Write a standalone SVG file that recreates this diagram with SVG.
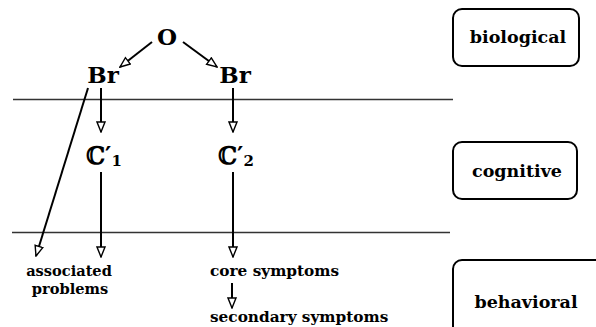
<svg xmlns="http://www.w3.org/2000/svg" width="596" height="327" viewBox="0 0 596 327">
<defs>
<style>
.t{font-family:"DejaVu Serif","Liberation Serif",serif;font-weight:bold;fill:#000}
.lbl{font-size:17.5px}
.sm{font-size:15.3px}
.big{font-size:23px}
.box{fill:none;stroke:#000;stroke-width:2}
.lvl{stroke:#333;stroke-width:1.6;fill:none}
.ar{stroke:#000;stroke-width:2;fill:none;marker-end:url(#ah)}
</style>
<marker id="ah" viewBox="0 0 12 10" refX="11" refY="5" markerWidth="12" markerHeight="10" markerUnits="userSpaceOnUse" orient="auto">
<path d="M1,1 L11,5 L1,9 Z" fill="#fff" stroke="#000" stroke-width="1.4"/>
</marker>
</defs>
<rect width="596" height="327" fill="#fff"/>
<g id="levels">
<line class="lvl" x1="13" y1="99.5" x2="453" y2="99.5"/>
<line class="lvl" x1="12" y1="232.5" x2="450" y2="232.5"/>
</g>
<g id="node-O"><text class="t big" x="167" y="45" text-anchor="middle">O</text></g>
<g id="node-Br1"><text class="t big" x="103" y="83" text-anchor="middle">Br</text></g>
<g id="node-Br2"><text class="t big" x="235" y="83" text-anchor="middle">Br</text></g>
<g id="node-C1"><text class="t" x="86" y="164" font-size="24">ℂ′<tspan font-size="15" dy="2">1</tspan></text></g>
<g id="node-C2"><text class="t" x="218" y="164" font-size="24">ℂ′<tspan font-size="15" dy="2">2</tspan></text></g>
<g id="node-assoc"><text class="t" font-size="14.6" x="69" y="276" text-anchor="middle">associated</text><text class="t" font-size="14.6" x="70" y="293.5" text-anchor="middle">problems</text></g>
<g id="node-core"><text class="t sm" x="210" y="276">core symptoms</text></g>
<g id="node-secondary"><text class="t sm" x="210" y="322">secondary symptoms</text></g>
<g id="node-biological"><rect class="box" x="453" y="9" width="126" height="57" rx="9"/><text class="t lbl" x="518" y="43" text-anchor="middle">biological</text></g>
<g id="node-cognitive"><rect class="box" x="453" y="142" width="124" height="57" rx="9"/><text class="t lbl" x="517" y="177" text-anchor="middle">cognitive</text></g>
<g id="node-behavioral"><rect class="box" x="453" y="260" width="160" height="80" rx="9"/><text class="t lbl" x="526" y="308" text-anchor="middle">behavioral</text></g>
<g id="connectors">
<line class="ar" x1="152" y1="42" x2="120" y2="67"/>
<line class="ar" x1="183" y1="42" x2="217" y2="67"/>
<line class="ar" x1="88" y1="88" x2="36" y2="256"/>
<line class="ar" x1="101" y1="88" x2="101" y2="132"/>
<line class="ar" x1="233" y1="88" x2="233" y2="132"/>
<line class="ar" x1="101" y1="172" x2="101" y2="257"/>
<line class="ar" x1="233" y1="172" x2="233" y2="257"/>
<line class="ar" x1="232" y1="283" x2="232" y2="308"/>
</g>
</svg>
